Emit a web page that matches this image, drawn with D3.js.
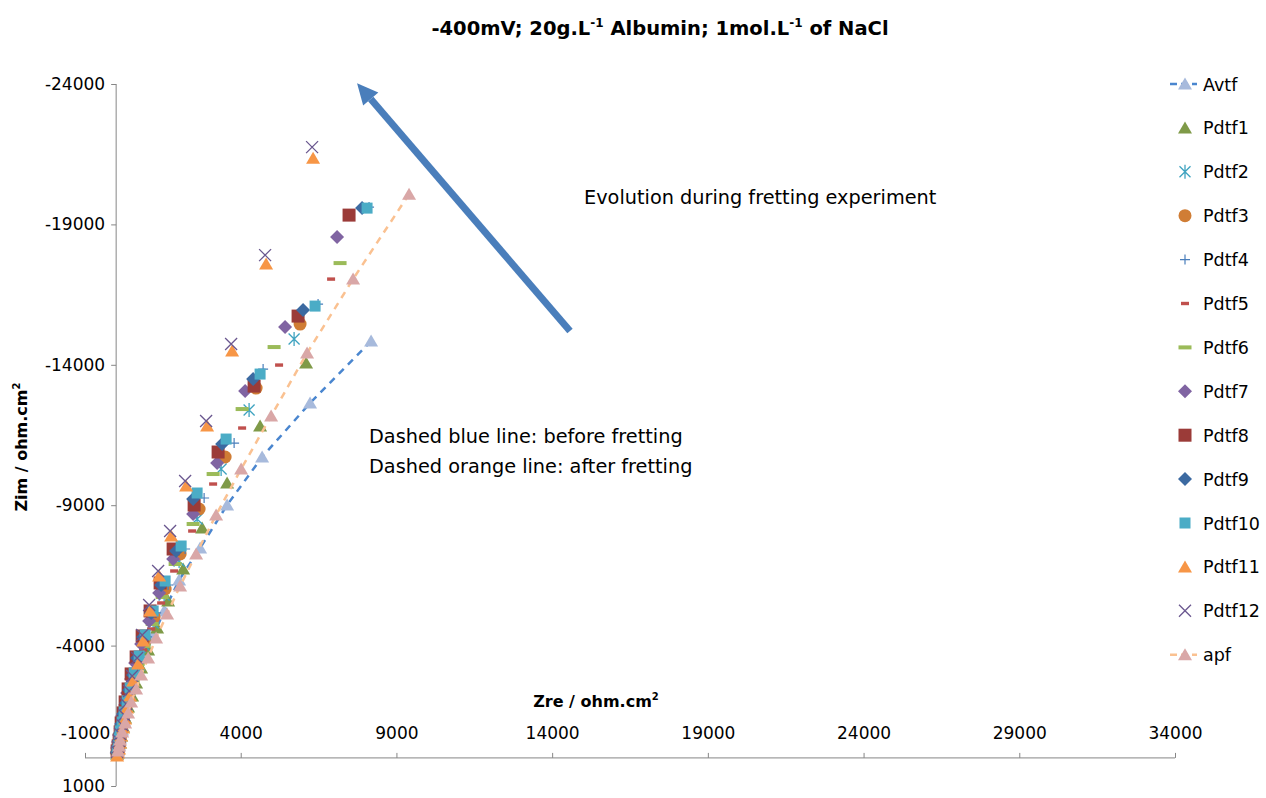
<!DOCTYPE html>
<html>
<head>
<meta charset="utf-8">
<script src="https://cdn.jsdelivr.net/npm/d3@7"></script>
<style>
  body { margin: 0; background: #fff; }
  text { font-family: "DejaVu Sans", sans-serif; fill: #000; }
</style>
</head>
<body>
<svg id="chart" width="1266" height="798"></svg>
<script>
// Nyquist data, Zre / Zim in ohm.cm2
const avtf = [[8186,-14845],[6227,-12638],[4687,-10716],[3563,-9007],[2696,-7476],[2022,-6337],[1541,-5233],[1188,-4343],[899,-3596],[706,-2990],[546,-2492],[417,-2065],[321,-1673],[257,-1317],[193,-997],[128,-712],[96,-463],[64,-285],[32,-142]];
const pdtf1 = [[6099,-14062],[4622,-11819],[3563,-9790],[2761,-8188],[2151,-6728],[1669,-5589],[1316,-4628],[1027,-3845],[803,-3204],[642,-2670],[514,-2207],[385,-1816],[289,-1424],[225,-1104],[161,-783],[128,-534],[64,-320],[32,-142]];
const pdtf2 = [[5714,-14916],[4269,-12389],[3371,-10288],[2600,-8508],[2022,-7013],[1541,-5803],[1188,-4806],[931,-3987],[738,-3311],[578,-2741],[449,-2278],[353,-1851],[257,-1460],[193,-1104],[128,-819],[96,-570],[64,-356],[32,-178]];
const pdtf3 = [[5906,-15450],[4494,-13172],[3499,-10716],[2664,-8864],[2054,-7262],[1573,-6016],[1220,-5020],[931,-4165],[738,-3453],[578,-2884],[449,-2385],[353,-1922],[257,-1531],[193,-1175],[128,-854],[96,-570],[64,-356],[32,-178]];
const pdtf4 = [[8121,-19616],[6484,-16162],[4719,-13848],[3788,-11214],[2825,-9256],[2215,-7440],[1669,-6159],[1284,-5162],[995,-4308],[770,-3560],[610,-2955],[482,-2421],[385,-1958],[289,-1566],[193,-1210],[161,-890],[96,-605],[64,-392],[32,-214]];
const pdtf5 = [[6902,-17052],[5232,-13991],[4045,-11748],[3114,-9754],[2440,-8081],[1862,-6657],[1445,-5518],[1124,-4592],[867,-3845],[674,-3204],[514,-2670],[417,-2207],[321,-1816],[225,-1424],[161,-1068],[128,-783],[96,-534],[64,-320],[32,-178]];
const pdtf6 = [[7190,-17622],[5072,-14632],[4045,-12424],[3114,-10110],[2472,-8330],[1894,-6906],[1477,-5732],[1156,-4770],[899,-3987],[706,-3346],[546,-2777],[417,-2314],[321,-1887],[257,-1495],[193,-1139],[128,-819],[96,-570],[64,-356],[32,-178]];
const pdtf7 = [[7094,-18548],[5425,-15344],[4141,-13065],[3242,-10502],[2472,-8686],[1830,-7084],[1380,-5874],[1059,-4877],[803,-4058],[610,-3382],[482,-2812],[353,-2314],[289,-1887],[193,-1495],[161,-1139],[96,-819],[64,-570],[32,-356],[16,-178]];
const pdtf8 = [[7479,-19331],[5842,-15735],[4430,-13243],[3274,-10894],[2504,-9007],[1830,-7440],[1412,-6230],[1091,-5233],[835,-4343],[642,-3596],[482,-2990],[385,-2456],[289,-1994],[225,-1602],[161,-1246],[128,-926],[96,-641],[64,-427],[32,-249]];
const pdtf9 = [[7897,-19580],[6003,-15949],[4398,-13492],[3403,-11178],[2472,-9220],[1926,-7369],[1445,-6159],[1124,-5162],[867,-4308],[674,-3560],[546,-2955],[417,-2421],[321,-1958],[225,-1566],[161,-1210],[128,-890],[96,-605],[64,-392],[32,-214]];
const pdtf10 = [[8057,-19580],[6388,-16091],[4622,-13670],[3531,-11356],[2600,-9434],[2087,-7547],[1573,-6301],[1188,-5233],[931,-4379],[738,-3631],[578,-3026],[449,-2492],[353,-2029],[257,-1638],[193,-1282],[128,-961],[96,-676],[64,-427],[32,-249]];
const pdtf11 = [[6324,-21360],[4815,-17586],[3724,-14489],[2921,-11819],[2247,-9683],[1766,-7903],[1380,-6479],[1091,-5233],[867,-4165],[706,-3346],[546,-2741],[449,-2207],[353,-1780],[289,-1388],[225,-1068],[161,-783],[128,-534],[96,-320],[64,-178],[32,-71]];
const pdtf12 = [[6292,-21752],[4783,-17907],[3692,-14738],[2889,-11997],[2215,-9861],[1733,-8081],[1348,-6657],[1059,-5447],[835,-4379],[674,-3560],[514,-2919],[417,-2385],[321,-1922],[257,-1531],[193,-1175],[128,-854],[96,-605],[64,-392],[32,-214]];
const apf = [[9405,-20078],[7608,-17052],[6131,-14418],[4976,-12175],[4013,-10288],[3210,-8651],[2568,-7262],[2054,-6123],[1637,-5126],[1284,-4272],[1027,-3560],[803,-2955],[642,-2456],[482,-1994],[385,-1602],[289,-1246],[193,-926],[128,-641],[96,-427],[64,-249]];

const seriesNames = ["Avtf","Pdtf1","Pdtf2","Pdtf3","Pdtf4","Pdtf5","Pdtf6","Pdtf7","Pdtf8","Pdtf9","Pdtf10","Pdtf11","Pdtf12","apf"];
const seriesData = [avtf,pdtf1,pdtf2,pdtf3,pdtf4,pdtf5,pdtf6,pdtf7,pdtf8,pdtf9,pdtf10,pdtf11,pdtf12,apf];
const xTicks = [-1000,4000,9000,14000,19000,24000,29000,34000];
const yTicks = [1000,-4000,-9000,-14000,-19000,-24000];

// marker look for every series (same order as seriesNames)
const styles = [
  {shape:"triangle", color:"#a7badc", line:"#4a86cf"},
  {shape:"triangle", color:"#7f9a48"},
  {shape:"star",     color:"#3fa3c0"},
  {shape:"circle",   color:"#d07d35"},
  {shape:"plus",     color:"#4a7ebb"},
  {shape:"dashS",    color:"#c0504d"},
  {shape:"dashL",    color:"#9bbb59"},
  {shape:"diamond",  color:"#8064a2"},
  {shape:"square",   color:"#9b3b38"},
  {shape:"diamond",  color:"#3c6aa1"},
  {shape:"squareS",  color:"#4bacc6"},
  {shape:"triangle", color:"#f79646"},
  {shape:"cross",    color:"#6a578f"},
  {shape:"triangle", color:"#d9a7a7", line:"#fac191"}
];

const svg = d3.select("#chart");
const fx = d3.scaleLinear().domain([-1000, 34000]).range([85, 1175]);
const fy = d3.scaleLinear().domain([1000, -24000]).range([786, 84]);
const axisColor = "#868686";

// title
let title = svg.append("text").attr("x", 660).attr("y", 35)
  .attr("text-anchor", "middle").attr("font-weight", "bold").attr("font-size", 19.5);
title.append("tspan").text("-400mV; 20g.L");
title.append("tspan").attr("font-size", 12).attr("dy", -8).text("-1");
title.append("tspan").attr("dy", 8).text(" Albumin; 1mol.L");
title.append("tspan").attr("font-size", 12).attr("dy", -8).text("-1");
title.append("tspan").attr("dy", 8).text(" of NaCl");

// x axis (crosses at Zim = 0), labels sit above the line
let xg = svg.append("g").attr("transform", `translate(0,${fy(0)})`)
  .call(d3.axisTop(fx).tickValues(xTicks).tickSize(5).tickPadding(14).tickFormat(d => String(d)));
xg.select(".domain").attr("stroke", axisColor).attr("d", `M${fx(-1000)},0H${fx(34000)}`);
xg.selectAll(".tick line").attr("stroke", axisColor);
xg.selectAll(".tick text").attr("font-size", 17).attr("font-family", "DejaVu Sans").attr("fill", "#000");

// y axis (crosses at Zre = 0)
let yg = svg.append("g").attr("transform", `translate(${fx(0)},0)`)
  .call(d3.axisLeft(fy).tickValues(yTicks).tickSize(5).tickPadding(6).tickFormat(d => String(d)));
yg.select(".domain").attr("stroke", axisColor).attr("d", `M0,${fy(-24000)}V${fy(1000)}`);
yg.selectAll(".tick line").attr("stroke", axisColor);
yg.selectAll(".tick text").attr("font-size", 17).attr("font-family", "DejaVu Sans").attr("fill", "#000");

// axis titles
let xt = svg.append("text").attr("x", 596).attr("y", 707).attr("text-anchor", "middle")
  .attr("font-weight", "bold").attr("font-size", 16);
xt.append("tspan").text("Zre / ohm.cm");
xt.append("tspan").attr("font-size", 10).attr("dy", -7).text("2");
let yt = svg.append("text").attr("transform", "translate(27,447) rotate(-90)").attr("text-anchor", "middle")
  .attr("font-weight", "bold").attr("font-size", 16);
yt.append("tspan").text("Zim / ohm.cm");
yt.append("tspan").attr("font-size", 10).attr("dy", -7).text("2");

// marker drawing
function drawMarker(g, shape, color) {
  if (shape === "triangle") g.append("path").attr("d", "M0,-6.5L7,5.5L-7,5.5Z").attr("fill", color);
  else if (shape === "circle") g.append("circle").attr("r", 6.5).attr("fill", color);
  else if (shape === "square") g.append("rect").attr("x", -6.5).attr("y", -6.5).attr("width", 13).attr("height", 13).attr("fill", color);
  else if (shape === "squareS") g.append("rect").attr("x", -5.5).attr("y", -5.5).attr("width", 11).attr("height", 11).attr("fill", color);
  else if (shape === "diamond") g.append("path").attr("d", "M0,-7L7,0L0,7L-7,0Z").attr("fill", color);
  else if (shape === "dashS") g.append("rect").attr("x", -4).attr("y", -1.7).attr("width", 8).attr("height", 3.4).attr("fill", color);
  else if (shape === "dashL") g.append("rect").attr("x", -6.5).attr("y", -2).attr("width", 13).attr("height", 4).attr("fill", color);
  else if (shape === "cross") g.append("path").attr("d", "M-6,-6L6,6M-6,6L6,-6").attr("stroke", color).attr("stroke-width", 1.3).attr("fill", "none");
  else if (shape === "star") g.append("path").attr("d", "M-5.5,-5.5L5.5,5.5M-5.5,5.5L5.5,-5.5M0,-7L0,7").attr("stroke", color).attr("stroke-width", 1.3).attr("fill", "none");
  else if (shape === "plus") g.append("path").attr("d", "M-5,0L5,0M0,-5L0,5").attr("stroke", color).attr("stroke-width", 1.2).attr("fill", "none");
}

const line = d3.line().x(d => fx(d[0])).y(d => fy(d[1]));

seriesData.forEach((data, i) => {
  let st = styles[i];
  let g = svg.append("g").attr("class", "series");
  if (st.line) {
    g.append("path").datum(data).attr("d", line).attr("fill", "none")
      .attr("stroke", st.line).attr("stroke-width", 2.5).attr("stroke-dasharray", "7,6");
  }
  g.selectAll("g.pt").data(data).enter().append("g").attr("class", "pt")
    .attr("transform", d => `translate(${fx(d[0])},${fy(d[1])})`)
    .each(function() { drawMarker(d3.select(this), st.shape, st.color); });
});

// legend
let legend = svg.append("g");
seriesNames.forEach((name, i) => {
  let st = styles[i];
  let y = 84 + i * 43.9;
  let item = legend.append("g").attr("transform", `translate(0,${y})`);
  if (st.line) {
    item.append("line").attr("x1", 1170).attr("x2", 1197).attr("stroke", st.line)
      .attr("stroke-width", 2.5).attr("stroke-dasharray", "7,4");
  }
  drawMarker(item.append("g").attr("transform", "translate(1185,0)"), st.shape, st.color);
  item.append("text").attr("x", 1203).attr("y", 6.5).attr("font-size", 17.5).text(name);
});

// annotations
svg.append("text").attr("x", 584).attr("y", 204).attr("font-size", 19.3).text("Evolution during fretting experiment");
svg.append("text").attr("x", 369).attr("y", 443).attr("font-size", 19.3).text("Dashed blue line: before fretting");
svg.append("text").attr("x", 369).attr("y", 473).attr("font-size", 19.3).text("Dashed orange line: after fretting");

// arrow showing the drift of the spectra
const arrowFrom = [14573, -15201], arrowTo = [7736, -24030];
let ax0 = fx(arrowFrom[0]), ay0 = fy(arrowFrom[1]), ax1 = fx(arrowTo[0]), ay1 = fy(arrowTo[1]);
let ang = Math.atan2(ay1 - ay0, ax1 - ax0);
let head = 21, half = 10;
let bx = ax1 - head * Math.cos(ang), by = ay1 - head * Math.sin(ang);
svg.append("line").attr("x1", ax0).attr("y1", ay0).attr("x2", bx).attr("y2", by)
  .attr("stroke", "#4a7ebb").attr("stroke-width", 7);
svg.append("path").attr("fill", "#4a7ebb").attr("d",
  `M${ax1},${ay1}L${bx + half * Math.sin(ang)},${by - half * Math.cos(ang)}L${bx - half * Math.sin(ang)},${by + half * Math.cos(ang)}Z`);
</script>
</body>
</html>
